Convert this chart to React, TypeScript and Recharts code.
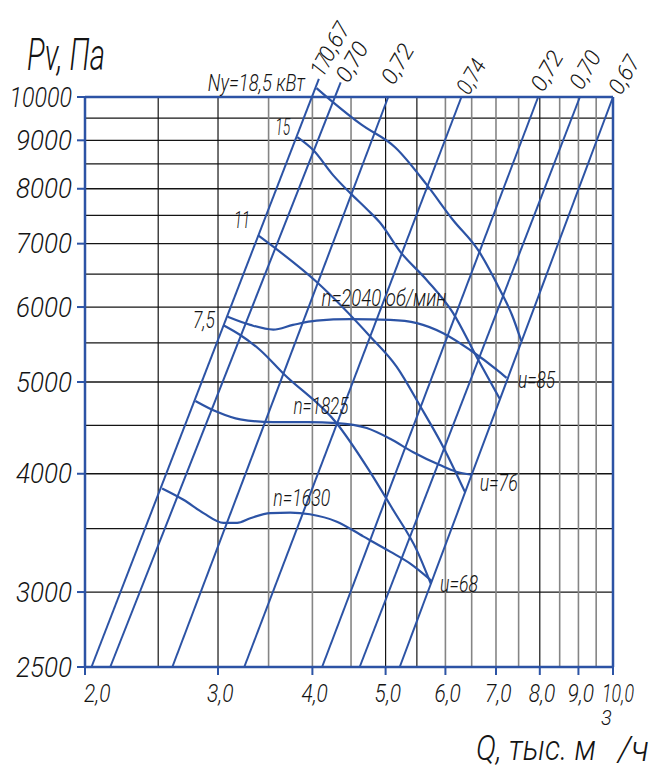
import React from 'react';
import { LineChart, Line, XAxis, YAxis, ReferenceLine } from 'recharts';

const BLUE = '#2c53a5';
const INK = '#141414';

// оси: Q, тыс. м3/ч (лог.) и Pv, Па (лог.)
const qTicks = [2, 3, 4, 5, 6, 7, 8, 9, 10];
const pTicks = [2500, 3000, 4000, 5000, 6000, 7000, 8000, 9000, 10000];
const qGrid = [2.5, 3, 3.5, 4, 4.5, 5, 5.5, 6, 6.5, 7, 7.5, 8, 8.5, 9, 9.5];
const qGridDark = [2.5, 3, 5, 5.5, 8];
const pGrid = [3000, 3500, 4000, 4500, 5000, 5500, 6000, 6500, 7000, 7500, 8000, 8500, 9000, 9500];

// лучи КПД (нижняя и верхняя точка)
const etaNames = ['0,67', '0,70', '0,72', '0,74', '0,72', '0,70', '0,67'];
const etaQ0 = [2.04, 2.16, 2.61, 3.25, 4.12, 4.62, 5.22];
const etaP0 = [2500, 2500, 2500, 2500, 2500, 2500, 2500];
const etaQ1 = [4.08, 4.36, 5.04, 6.3, 7.96, 9.04, 10];
const etaP1 = [10450, 10360, 10000, 10000, 10000, 10000, 10000];

// характеристики Pv(Q) при n = 2040, 1825, 1630 об/мин
const q2040 = [3.09, 3.31, 3.55, 3.77, 4.05, 4.49, 5.07, 5.5, 5.96, 6.47, 7.02, 7.23];
const p2040 = [5860, 5745, 5680, 5745, 5805, 5825, 5815, 5770, 5630, 5405, 5150, 5050];
const q1825 = [2.8, 2.99, 3.21, 3.55, 3.94, 4.31, 4.72, 5.07, 5.44, 5.9, 6.2, 6.5];
const p1825 = [4775, 4650, 4565, 4535, 4535, 4525, 4470, 4355, 4215, 4085, 4020, 3990];
const q1630 = [2.53, 2.7, 2.87, 3.05, 3.18, 3.31, 3.52, 3.74, 3.97, 4.31, 4.67, 5.07, 5.39, 5.76];
const p1630 = [3860, 3755, 3635, 3550, 3550, 3590, 3635, 3640, 3625, 3560, 3435, 3310, 3215, 3080];

// линии мощности Ny, кВт
const q185 = [4.05, 4.25, 4.64, 5.15, 5.66, 6.14, 6.63, 7.09, 7.35, 7.56];
const p185 = [10220, 9890, 9355, 8845, 8090, 7415, 6890, 6250, 5885, 5525];
const q15 = [3.82, 4.01, 4.26, 4.49, 4.72, 4.92, 5.22, 5.67, 6.14, 6.61, 7.08];
const p15 = [9070, 8790, 8270, 7915, 7615, 7360, 6875, 6405, 5915, 5300, 4800];
const q11 = [3.39, 3.55, 4.05, 4.77, 5.17, 5.56, 5.96, 6.37];
const p11 = [7145, 6950, 6380, 5585, 5190, 4710, 4270, 3825];
const q75 = [3.05, 3.21, 3.41, 3.66, 4.31, 4.72, 5.12, 5.5, 5.74];
const p75 = [5740, 5605, 5405, 5105, 4520, 4070, 3660, 3320, 3060];

const zip = (q: number[], p: number[]) => q.map((v, i) => ({ q: v, p: p[i] }));

const font = (size: number): React.CSSProperties => ({
  fontFamily: 'Roboto, "Noto Sans", sans-serif',
  fontStyle: 'italic',
  fontWeight: 300,
  fontSize: size,
  fill: INK,
});

type Tag = { at: number; text: string; dx: number; dy: number; w: number; size?: number; end?: boolean; rot?: number };

// подписи, привязанные к точкам линий (at < 0 — с конца)
const tagged = (tags: Tag[], count: number) => (props: any) => {
  const { cx, cy, index } = props;
  const mine = tags.filter((t) => (t.at < 0 ? count + t.at : t.at) === index);
  if (!mine.length || cx == null || cy == null) return <g key={`t-${index}`} />;
  return (
    <g key={`t-${index}`}>
      {mine.map((t, k) => {
        const x = cx + t.dx;
        const y = cy + t.dy;
        return (
          <text
            key={k}
            x={x}
            y={y}
            textAnchor={t.end ? 'end' : 'start'}
            textLength={t.w}
            lengthAdjust="spacingAndGlyphs"
            transform={t.rot ? `rotate(${t.rot} ${x} ${y})` : undefined}
            style={font(t.size ?? 23)}
          >
            {t.text}
          </text>
        );
      })}
    </g>
  );
};

const etaOffsets = [[12, -16], [7.6, 1.5], [5.5, -11], [7.5, -1], [5, -4], [2, -6], [8, -1]];
const etaLen = [40, 42, 42, 36, 42, 40, 40];

const charW = (s: string, digit: number, one: number, comma: number) =>
  s.split('').reduce((a, c) => a + (c === '1' ? one : c === ',' ? comma : digit), 0);

const PTick = (props: any) => {
  const { x, y, payload } = props;
  const s = String(payload.value);
  return (
    <text x={x - 3} y={y + 9.5} textAnchor="end" textLength={charW(s, 14, 6.5, 4)} lengthAdjust="spacingAndGlyphs" style={font(27)}>
      {s}
    </text>
  );
};

const QTick = (props: any) => {
  const { x, y, payload } = props;
  const v = Number(payload.value);
  const s = v.toFixed(1).replace('.', ',');
  return (
    <text x={v === 2 ? x - 1 : x - 11} y={y + 25} textLength={charW(s, 11, 5.5, 4.5)} lengthAdjust="spacingAndGlyphs" style={font(25)}>
      {s}
    </text>
  );
};

const PTitle = (props: any) => {
  const vb = props.viewBox ?? { x: 0, y: 73 };
  return (
    <text x={vb.x + 27} y={vb.y - 3} textLength={78} lengthAdjust="spacingAndGlyphs" style={font(44)}>
      Pv, Па
    </text>
  );
};

const QTitle = (props: any) => {
  const vb = props.viewBox ?? { x: 85, y: 667, width: 528 };
  const r = vb.x + vb.width;
  return (
    <g>
      <text x={r - 137} y={vb.y + 93} textLength={120} lengthAdjust="spacingAndGlyphs" style={font(35)}>Q, тыс. м</text>
      <text x={r - 12} y={vb.y + 58} style={font(20)}>3</text>
      <text x={r + 5} y={vb.y + 94} textLength={31} lengthAdjust="spacingAndGlyphs" style={font(35)}>/ч</text>
    </g>
  );
};

const curves = [
  { key: 'n2040', data: zip(q2040, p2040), tags: [
    { at: 4, text: 'n=2040 об/мин', dx: 5, dy: -15, w: 125 },
    { at: -1, text: 'u=85', dx: 11.5, dy: 10, w: 37 },
  ] },
  { key: 'n1825', data: zip(q1825, p1825), tags: [
    { at: 4, text: 'n=1825', dx: -14, dy: -8, w: 55 },
    { at: -1, text: 'u=76', dx: 8, dy: 16, w: 38 },
  ] },
  { key: 'n1630', data: zip(q1630, p1630), tags: [
    { at: 7, text: 'n=1630', dx: -17, dy: -7, w: 57 },
    { at: -1, text: 'u=68', dx: 8, dy: 11, w: 38 },
  ] },
  { key: 'N185', data: zip(q185, p185), tags: [{ at: 0, text: 'Ny=18,5 кВт', dx: -11.6, dy: 3, w: 97, end: true }] },
  { key: 'N15', data: zip(q15, p15), tags: [{ at: 0, text: '15', dx: -7, dy: -2, w: 15, end: true }] },
  { key: 'N11', data: zip(q11, p11), tags: [{ at: 0, text: '11', dx: -8, dy: -7, w: 16, end: true }] },
  { key: 'N75', data: zip(q75, p75), tags: [{ at: 0, text: '7,5', dx: -8.5, dy: 3, w: 22, end: true }] },
];

export default function App() {
  return (
    <div style={{ position: 'absolute', left: 0, top: 0, width: 654, height: 771, background: '#fff', overflow: 'hidden' }}>
      <LineChart width={654} height={771} margin={{ top: 73.05, right: 41, bottom: 44, left: 0 }}>
        <XAxis
          dataKey="q"
          type="number"
          scale="log"
          domain={[2, 10]}
          ticks={qTicks}
          interval={0}
          height={60}
          axisLine={false}
          tickSize={8}
          tickLine={{ stroke: BLUE, strokeWidth: 2 }}
          tick={<QTick />}
          label={QTitle}
        />
        <YAxis
          dataKey="p"
          type="number"
          scale="log"
          domain={[2500, 10600]}
          ticks={pTicks}
          interval={0}
          width={85}
          axisLine={false}
          tickSize={8}
          tickLine={{ stroke: BLUE, strokeWidth: 2 }}
          tick={<PTick />}
          label={PTitle}
        />
        {pGrid.map((p) => (
          <ReferenceLine key={`h${p}`} y={p} stroke={INK} strokeWidth={1.3} />
        ))}
        {qGrid.map((q) => (
          <ReferenceLine
            key={`v${q}`}
            segment={[{ x: q, y: 2500 }, { x: q, y: 10000 }]}
            stroke={qGridDark.includes(q) ? INK : '#858585'}
            strokeWidth={qGridDark.includes(q) ? 1.2 : 1.6}
          />
        ))}
        <ReferenceLine y={2500} stroke={BLUE} strokeWidth={2.5} />
        <ReferenceLine y={10000} stroke={BLUE} strokeWidth={2.5} />
        <ReferenceLine segment={[{ x: 2, y: 2500 }, { x: 2, y: 10000 }]} stroke={BLUE} strokeWidth={2.5} />
        <ReferenceLine segment={[{ x: 10, y: 2500 }, { x: 10, y: 10000 }]} stroke={BLUE} strokeWidth={2.5} />

        {etaNames.map((name, i) => {
          const main: Tag = { at: 1, text: name, dx: etaOffsets[i][0], dy: etaOffsets[i][1], w: etaLen[i], size: 23, rot: -60 };
          const tags: Tag[] = i === 0 ? [{ at: 1, text: '17', dx: 4, dy: -1, w: 20, size: 23, rot: -60 }, main] : [main];
          return (
            <Line
              key={`eta${i}`}
              data={zip([etaQ0[i], etaQ1[i]], [etaP0[i], etaP1[i]])}
              dataKey="p"
              type="linear"
              stroke={BLUE}
              strokeWidth={2}
              dot={tagged(tags, 2)}
              activeDot={false}
              isAnimationActive={false}
            />
          );
        })}

        {curves.map((c) => (
          <Line
            key={c.key}
            data={c.data}
            dataKey="p"
            type="monotone"
            stroke={BLUE}
            strokeWidth={2.2}
            dot={tagged(c.tags, c.data.length)}
            activeDot={false}
            isAnimationActive={false}
          />
        ))}
      </LineChart>
    </div>
  );
}
